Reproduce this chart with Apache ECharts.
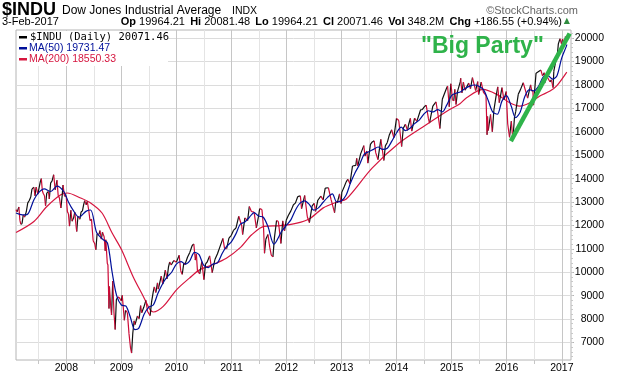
<!DOCTYPE html>
<html>
<head>
<meta charset="utf-8">
<script src="https://cdn.jsdelivr.net/npm/echarts@6/dist/echarts.min.js"></script>
<style>
  html, body { margin: 0; padding: 0; background: #fff; }
  #chart { width: 620px; height: 376px; }
</style>
</head>
<body>
<div id="chart"></div>
<script>
// $INDU daily close (swings kept, not every day)
const priceDates = [
  '2007-02-01','2007-02-09','2007-02-20','2007-02-27','2007-03-05','2007-03-13','2007-03-21','2007-03-30',
  '2007-04-10','2007-04-20','2007-04-30','2007-05-10','2007-05-18','2007-05-31','2007-06-07','2007-06-15',
  '2007-06-26','2007-07-03','2007-07-12','2007-07-19','2007-07-26','2007-08-01','2007-08-09','2007-08-16',
  '2007-08-24','2007-09-04','2007-09-10','2007-09-19','2007-09-28','2007-10-09','2007-10-19','2007-10-31',
  '2007-11-08','2007-11-16','2007-11-26','2007-12-04','2007-12-10','2007-12-20','2007-12-31',
  '2008-01-08','2008-01-15','2008-01-22','2008-01-31','2008-02-08','2008-02-19','2008-02-26','2008-03-07',
  '2008-03-10','2008-03-18','2008-03-31','2008-04-08','2008-04-17','2008-04-25','2008-05-02','2008-05-12',
  '2008-05-19','2008-05-29','2008-06-06','2008-06-16','2008-06-27','2008-07-07','2008-07-15','2008-07-23',
  '2008-08-05','2008-08-11','2008-08-20','2008-08-28','2008-09-08','2008-09-15','2008-09-19','2008-09-29',
  '2008-10-03','2008-10-10','2008-10-13','2008-10-22','2008-10-27','2008-11-04','2008-11-12','2008-11-20',
  '2008-11-28','2008-12-08','2008-12-16','2008-12-31',
  '2009-01-06','2009-01-20','2009-01-28','2009-02-09','2009-02-20','2009-03-02','2009-03-09','2009-03-17',
  '2009-03-26','2009-04-01','2009-04-17','2009-04-28','2009-05-08','2009-05-15','2009-05-29','2009-06-12',
  '2009-06-23','2009-07-10','2009-07-20','2009-07-31','2009-08-07','2009-08-17','2009-08-28','2009-09-02',
  '2009-09-22','2009-10-02','2009-10-19','2009-10-30','2009-11-09','2009-11-17','2009-11-27','2009-12-14',
  '2009-12-31',
  '2010-01-19','2010-01-29','2010-02-08','2010-02-19','2010-02-26','2010-03-15','2010-03-31','2010-04-15',
  '2010-04-26','2010-05-06','2010-05-13','2010-05-20','2010-06-04','2010-06-18','2010-07-02','2010-07-13',
  '2010-07-23','2010-08-09','2010-08-26','2010-09-13','2010-09-30','2010-10-15','2010-11-05','2010-11-16',
  '2010-11-30','2010-12-15','2010-12-31',
  '2011-01-14','2011-01-31','2011-02-18','2011-03-10','2011-03-16','2011-03-31','2011-04-18','2011-04-29',
  '2011-05-13','2011-05-31','2011-06-15','2011-06-30','2011-07-07','2011-07-22','2011-08-02','2011-08-08',
  '2011-08-17','2011-08-31','2011-09-12','2011-09-22','2011-10-03','2011-10-13','2011-10-27','2011-11-08',
  '2011-11-25','2011-12-07','2011-12-19','2011-12-30',
  '2012-01-13','2012-01-31','2012-02-16','2012-02-29','2012-03-16','2012-04-02','2012-04-10','2012-05-01',
  '2012-05-18','2012-06-01','2012-06-19','2012-07-03','2012-07-12','2012-07-27','2012-08-16','2012-08-31',
  '2012-09-14','2012-10-05','2012-10-23','2012-11-15','2012-11-23','2012-12-03','2012-12-18','2012-12-28',
  '2013-01-02','2013-01-18','2013-01-31','2013-02-11','2013-02-25','2013-03-14','2013-04-05','2013-04-11',
  '2013-04-18','2013-05-07','2013-05-28','2013-06-05','2013-06-17','2013-06-24','2013-07-11','2013-07-23',
  '2013-08-05','2013-08-15','2013-08-30','2013-09-18','2013-10-08','2013-10-18','2013-10-31','2013-11-14',
  '2013-11-29','2013-12-13','2013-12-31',
  '2014-01-15','2014-02-03','2014-02-14','2014-02-28','2014-03-14','2014-03-21','2014-04-02','2014-04-11',
  '2014-04-30','2014-05-15','2014-06-09','2014-06-20','2014-07-03','2014-07-16','2014-07-31','2014-08-07',
  '2014-08-29','2014-09-19','2014-10-01','2014-10-15','2014-10-31','2014-11-26','2014-12-05','2014-12-16',
  '2014-12-26','2014-12-31',
  '2015-01-06','2015-01-15','2015-01-22','2015-01-30','2015-02-09','2015-02-27','2015-03-02','2015-03-10',
  '2015-03-20','2015-03-31','2015-04-24','2015-05-06','2015-05-19','2015-06-09','2015-06-23','2015-06-29',
  '2015-07-16','2015-07-31','2015-08-10','2015-08-17','2015-08-24','2015-08-27','2015-09-01','2015-09-16',
  '2015-09-28','2015-10-08','2015-10-22','2015-11-03','2015-11-13','2015-12-01','2015-12-14','2015-12-29',
  '2015-12-31',
  '2016-01-08','2016-01-20','2016-02-01','2016-02-11','2016-02-22','2016-03-01','2016-03-18','2016-04-01',
  '2016-04-20','2016-05-06','2016-05-19','2016-06-08','2016-06-16','2016-06-23','2016-06-27','2016-07-14',
  '2016-08-15','2016-08-26','2016-09-07','2016-09-09','2016-09-22','2016-10-14','2016-10-24','2016-11-04',
  '2016-11-09','2016-11-22','2016-12-01','2016-12-09','2016-12-20','2016-12-30',
  '2017-01-06','2017-01-19','2017-01-25','2017-01-31','2017-02-03'
];
const priceValues = [
  12674,12580,12786,12216,12050,12075,12447,12354,
  12573,12961,13063,13215,13556,13628,13266,13639,
  13337,13577,13861,14000,13473,13362,13270,12845,
  13379,13448,13127,13816,13896,14165,13522,13930,
  13266,13176,12743,13249,13727,13245,13265,
  12589,12501,11971,12650,12182,12337,12570,11894,
  11740,12392,12263,12577,12620,12892,13058,12876,
  13028,12638,12210,12270,11346,11231,10963,11632,
  11615,11782,11417,11715,11510,10918,11388,10365,
  10325,8451,9387,8519,8175,9625,8283,7552,
  8829,8934,8924,8776,
  9015,7950,8375,8270,7366,6763,6547,7395,
  7925,7761,8131,8016,8575,8268,8500,8799,
  8323,8146,8743,9172,9370,9135,9544,9280,
  9830,9488,10092,9713,10226,10437,10310,10502,
  10428,
  10725,10067,9908,10402,10325,10643,10857,11144,
  11205,10520,10782,10068,9931,10450,9686,10364,
  10424,10698,9986,10544,10788,11062,11444,11023,
  11006,11457,11578,
  11787,11892,12391,11984,11613,12320,12202,12811,
  12596,12570,11898,12414,12719,12681,11867,10810,
  11410,11614,11061,10733,10655,11478,12209,12170,
  11231,12196,11766,12218,
  12422,12633,12880,12952,13233,13264,12716,13279,
  12369,12119,12837,12943,12604,13076,13250,13090,
  13593,13610,13102,12543,13010,12966,13350,12938,
  13412,13650,13861,13971,13784,14539,14565,14865,
  14537,15056,15409,14961,15180,14660,15460,15567,
  15612,15112,14810,15676,14776,15399,15546,15876,
  16086,15755,16577,
  16482,15373,16154,16322,16066,16302,16573,16027,
  16581,16447,16943,16947,17068,17138,16563,16368,
  17098,17280,16804,16142,17391,17828,17958,17068,
  18053,17823,
  17371,17320,17814,17165,17729,18133,18288,17662,
  18128,17776,18080,17841,18312,17765,18144,17596,
  18120,17690,17615,17545,15871,16655,16058,16740,
  16001,16912,17489,17918,17245,17888,17368,17720,
  17425,
  16346,15766,16449,15660,16620,16865,17602,17792,
  18096,17740,17436,18005,17733,17780,17140,18506,
  18636,18395,18526,18085,18392,18138,18223,17888,
  18589,19023,19191,19757,19974,19763,
  19964,19732,20069,19864,20071
];

// 50-day moving average (navy)
const ma50Dates = [
  '2007-02-01','2007-03-15','2007-04-15','2007-05-31','2007-07-01','2007-08-07','2007-09-20','2007-10-31',
  '2007-12-15','2008-01-15','2008-02-15','2008-03-25','2008-05-10','2008-06-10','2008-07-20','2008-08-31',
  '2008-09-30','2008-10-31','2008-11-30','2008-12-31','2009-01-31','2009-02-28','2009-03-31','2009-04-25',
  '2009-05-31','2009-06-30','2009-07-31','2009-08-31','2009-09-30','2009-10-31','2009-11-30','2009-12-31',
  '2010-01-31','2010-02-28','2010-03-31','2010-04-30','2010-05-31','2010-06-30','2010-07-31','2010-08-31',
  '2010-09-30','2010-10-31','2010-11-30','2010-12-31','2011-01-31','2011-02-28','2011-03-31','2011-04-30',
  '2011-05-31','2011-06-30','2011-07-31','2011-08-31','2011-10-10','2011-11-30','2011-12-31','2012-01-31',
  '2012-02-29','2012-03-31','2012-04-30','2012-05-31','2012-06-30','2012-07-31','2012-08-31','2012-09-30',
  '2012-10-31','2012-11-30','2012-12-31','2013-01-31','2013-02-28','2013-03-31','2013-04-30','2013-05-31',
  '2013-06-30','2013-07-31','2013-08-31','2013-09-30','2013-10-31','2013-11-30','2013-12-31','2014-01-31',
  '2014-02-28','2014-03-31','2014-04-30','2014-05-31','2014-06-30','2014-07-31','2014-08-31','2014-09-30',
  '2014-10-31','2014-11-30','2014-12-31','2015-01-31','2015-02-28','2015-03-31','2015-04-30','2015-05-31',
  '2015-06-30','2015-07-31','2015-08-31','2015-09-30','2015-10-31','2015-11-30','2015-12-31','2016-01-31',
  '2016-02-29','2016-03-31','2016-04-30','2016-05-31','2016-06-30','2016-07-31','2016-08-31','2016-09-30',
  '2016-10-31','2016-11-30','2016-12-31','2017-01-31','2017-02-03'
];
const ma50Values = [
  12530,12450,12460,13100,13400,13560,13450,13680,
  13450,13000,12650,12350,12600,12660,11700,11400,
  11250,10000,9000,8600,8550,8100,7550,7600,
  8200,8500,8600,9100,9500,9800,10000,10350,
  10450,10350,10500,10850,10750,10300,10200,10350,
  10400,10800,11100,11300,11650,12050,12150,12350,
  12550,12400,12350,11950,11200,11750,12000,12250,
  12650,12950,13050,12900,12650,12750,12990,13200,
  13350,13000,13050,13300,13800,14250,14600,15050,
  15150,15250,15350,15250,15300,15600,15950,16200,
  16050,16150,16350,16500,16750,16900,16850,16950,
  16850,17150,17550,17650,17700,17850,17950,18000,
  17950,17800,17350,16850,16750,17300,17550,17100,
  16600,16850,17500,17800,17750,17950,18350,18400,
  18250,18400,19150,19650,19731
];

// 200-day moving average (red)
const ma200Dates = [
  '2007-02-01','2007-05-31','2007-08-25','2007-11-25','2008-01-07','2008-04-05','2008-06-10','2008-08-25',
  '2008-10-31','2008-12-31','2009-03-20','2009-05-26','2009-07-10','2009-08-01','2009-10-05','2010-01-01',
  '2010-03-28','2010-06-03','2010-08-28','2010-11-28','2011-02-28','2011-05-15','2011-08-05','2011-11-20',
  '2012-03-10','2012-06-05','2012-09-01','2012-12-01','2013-02-01','2013-07-22','2014-01-18','2014-07-16',
  '2014-12-16','2015-02-25','2015-04-10','2015-07-28','2015-10-27','2016-01-22','2016-03-28','2016-06-03',
  '2016-08-08','2016-10-15','2016-11-28','2017-02-03'
];
const ma200Values = [
  11700,12170,12810,13310,13385,13170,12960,12530,
  11675,10980,9800,8966,8400,8300,8540,9250,
  9750,10100,10320,10600,11050,11600,11960,11990,
  12100,12300,12750,13000,13130,14450,15520,16300,
  16940,17200,17460,17810,17600,17240,17100,17240,
  17530,17740,17960,18550
];

// hand-drawn "Big Party" trend line
const partyDates = ['2016-01-29', '2017-02-22'];
const partyValues = [15600, 20200];

// axis ticks
const yearTicks = ['2008-01-01','2009-01-01','2010-01-01','2011-01-01','2012-01-01',
  '2013-01-01','2014-01-01','2015-01-01','2016-01-01','2017-01-01'];
const halfYearTicks = ['2007-07-01','2008-01-01','2008-07-01','2009-01-01','2009-07-01','2010-01-01',
  '2010-07-01','2011-01-01','2011-07-01','2012-01-01','2012-07-01','2013-01-01','2013-07-01',
  '2014-01-01','2014-07-01','2015-01-01','2015-07-01','2016-01-01','2016-07-01','2017-01-01'];
const priceTicks = [7000,8000,9000,10000,11000,12000,13000,14000,15000,16000,17000,18000,19000,20000];
const minorPriceTicks = [];
for (let v = 6400; v <= 20200; v += 200) minorPriceTicks.push(v);

const ts = s => Date.parse(s + 'T00:00:00Z');

// up moves black, down moves red, as on the StockCharts line
const upData = [];
const downData = [];
for (let i = 1; i < priceDates.length; i++) {
  const target = priceValues[i] >= priceValues[i - 1] ? upData : downData;
  target.push([ts(priceDates[i - 1]), priceValues[i - 1]], [ts(priceDates[i]), priceValues[i]], [ts(priceDates[i]), '-']);
}
const pairs = (d, v) => d.map((x, i) => [ts(x), v[i]]);

const font = 'Liberation Sans, Arial, sans-serif';
const chart = echarts.init(document.getElementById('chart'));

const option = {
  animation: false,
  backgroundColor: '#fff',
  grid: {
    left: 16, right: 49, top: 30, bottom: 16,
    show: true, borderColor: '#b4b4b4', borderWidth: 1
  },
  xAxis: {
    type: 'value',
    min: ts('2007-02-01'),
    max: ts('2017-03-03'),
    axisLine: { show: false },
    axisTick: { show: true, length: 4, customValues: halfYearTicks.map(ts), lineStyle: { color: '#c6c6c6' } },
    splitLine: { show: true, lineStyle: { color: ['#e4e4e4', '#c6c6c6'], width: 1 } },
    axisLabel: {
      customValues: yearTicks.map(ts),
      formatter: v => String(new Date(v).getUTCFullYear()),
      color: '#000', fontSize: 10.5, fontFamily: font, margin: 3, hideOverlap: false
    }
  },
  yAxis: [
    {
      type: 'value',
      position: 'right',
      min: 6250,
      max: 20350,
      axisLine: { show: false },
      axisTick: { show: true, length: 3, customValues: priceTicks, lineStyle: { color: '#b4b4b4' } },
      splitLine: { show: true, lineStyle: { color: '#dcdcdc', width: 1 } },
      axisLabel: {
        customValues: priceTicks,
        formatter: v => String(v),
        align: 'right',
        color: '#000', fontSize: 10.5, fontFamily: font, margin: 33
      }
    },
    {
      type: 'value',
      position: 'right',
      min: 6250,
      max: 20350,
      axisLine: { show: false },
      axisTick: { show: true, length: 2, customValues: minorPriceTicks, lineStyle: { color: '#c8c8c8' } },
      splitLine: { show: false },
      axisLabel: { show: false }
    }
  ],
  series: [
    {
      name: 'MA(200)', type: 'line', data: pairs(ma200Dates, ma200Values),
      smooth: 0.3, showSymbol: false, lineStyle: { color: '#d6163f', width: 1.2 }, z: 2
    },
    {
      name: 'up', type: 'line', data: upData, showSymbol: false, connectNulls: false,
      lineStyle: { color: '#111', width: 1.2 }, z: 3
    },
    {
      name: 'down', type: 'line', data: downData, showSymbol: false, connectNulls: false,
      lineStyle: { color: '#cc0a36', width: 1.2 }, z: 4
    },
    {
      name: 'MA(50)', type: 'line', data: pairs(ma50Dates, ma50Values),
      smooth: 0.3, showSymbol: false, lineStyle: { color: '#00109a', width: 1.2 }, z: 5
    },
    {
      name: 'Big Party', type: 'line', data: pairs(partyDates, partyValues),
      showSymbol: false, lineStyle: { color: '#2fb34a', width: 4.5 }, z: 6
    }
  ],
  graphic: [
    { type: 'text', left: 2, top: 1, style: { text: '$INDU', font: 'bold 18px ' + font, fill: '#000' } },
    { type: 'text', left: 62, top: 5, style: { text: 'Dow Jones Industrial Average', font: '12px ' + font, fill: '#000' } },
    { type: 'text', left: 232, top: 6, style: { text: 'INDX', font: '10.5px ' + font, fill: '#000' } },
    { type: 'text', right: 42, top: 5, style: { text: '\u00a9StockCharts.com', font: '11px ' + font, fill: '#666' } },
    { type: 'text', left: 2, top: 16, style: { text: '3-Feb-2017', font: '11px ' + font, fill: '#000' } },
    {
      type: 'text', right: 58, top: 16,
      style: {
        text: '{b|Op} 19964.21 \u2009{b|Hi} 20081.48 \u2009{b|Lo} 19964.21 \u2009{b|Cl} 20071.46 \u2009{b|Vol} 348.2M \u2009{b|Chg} +186.55 (+0.94%)',
        font: '11px ' + font, fill: '#000',
        rich: { b: { fontWeight: 'bold', fontSize: 11, fontFamily: font } }
      }
    },
    { type: 'text', right: 50, top: 17, style: { text: '\u25b2', font: '8px DejaVu Sans', fill: '#2e8b3e' } },
    { type: 'rect', shape: { x: 17, y: 31, width: 151, height: 35 }, style: { fill: '#fff' }, z: 50 },
    { type: 'rect', shape: { x: 19, y: 36, width: 8, height: 2.5 }, style: { fill: '#000' }, z: 51 },
    { type: 'text', left: 30, top: 32, z: 51, style: { text: '$INDU (Daily) 20071.46', font: '10.5px DejaVu Sans Mono', fill: '#000' } },
    { type: 'rect', shape: { x: 19, y: 47, width: 8, height: 2.5 }, style: { fill: '#00109a' }, z: 51 },
    { type: 'text', left: 29, top: 43, z: 51, style: { text: 'MA(50) 19731.47', font: '10.5px ' + font, fill: '#00109a' } },
    { type: 'rect', shape: { x: 19, y: 58, width: 8, height: 2.5 }, style: { fill: '#d6163f' }, z: 51 },
    { type: 'text', left: 29, top: 54, z: 51, style: { text: 'MA(200) 18550.33', font: '10.5px ' + font, fill: '#d6163f' } },
    { type: 'text', left: 421, top: 35, z: 51, style: { text: '"Big Party"', font: 'bold 23px ' + font, fill: '#2fb34a' } }
  ]
};

chart.setOption(option);
</script>
</body>
</html>
